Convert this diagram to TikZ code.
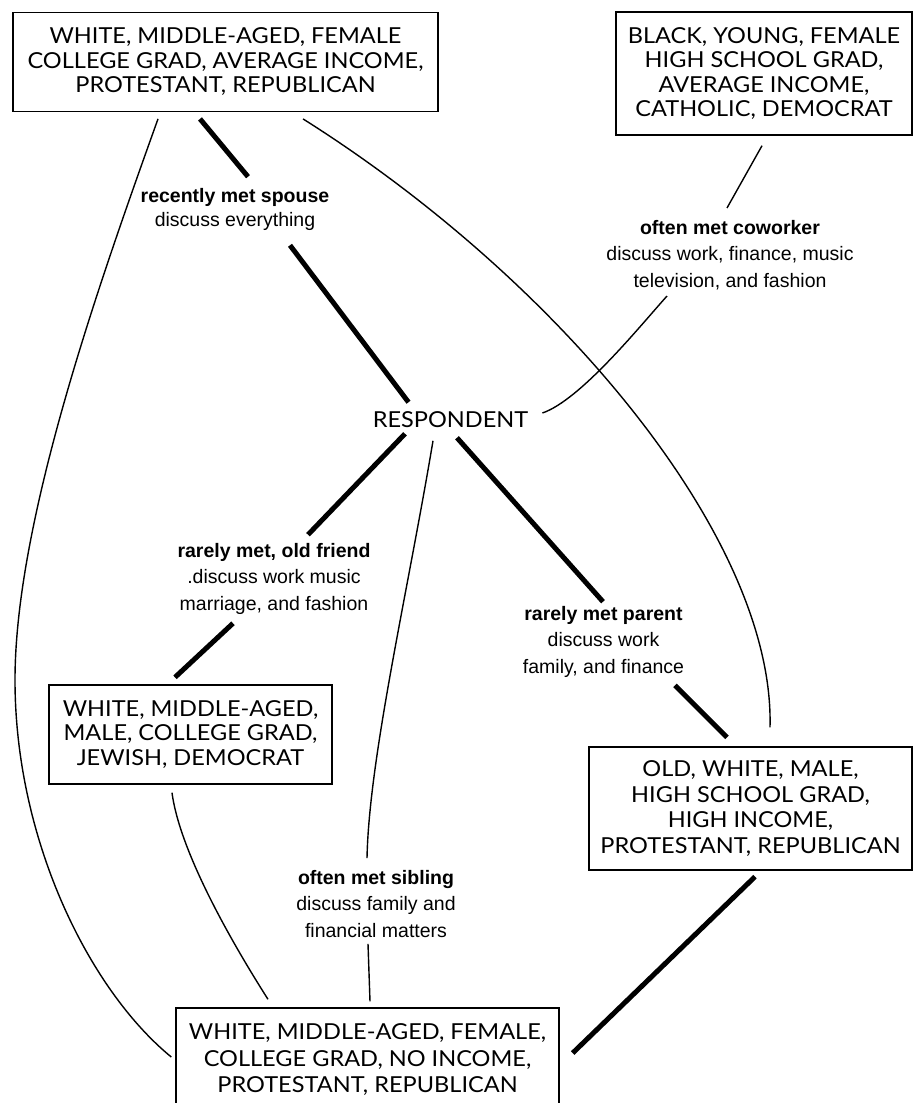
\documentclass[tikz,border=0pt]{standalone}
\usepackage{fontspec}
\setmainfont{Lato}
\newfontfamily\boxfont[FakeStretch=1.07]{Lato}
\newfontfamily\lblfont{Liberation Sans}
\usetikzlibrary{calc}
\begin{document}
\begin{tikzpicture}[x=1pt,y=-1pt,
  box/.style={draw, line width=1.4pt, align=center, inner sep=0pt,
    font=\boxfont\fontsize{22}{24.5}\selectfont},
  lbl/.style={align=center, inner sep=0pt, font=\lblfont\fontsize{19.5}{26.5}\selectfont},
  heavy/.style={line width=5pt},
  thinl/.style={line width=1.4pt}]
\useasboundingbox (0,0) rectangle (913,1103);
\clip (0,0) rectangle (913,1103);
% boxes
\node[box, minimum width=425pt, minimum height=99pt] (A) at (225.5,61.7)
  {WHITE, MIDDLE-AGED, FEMALE\\COLLEGE GRAD, AVERAGE INCOME,\\PROTESTANT, REPUBLICAN};
\node[box, minimum width=296pt, minimum height=123pt] (B) at (764,73.5)
  {BLACK, YOUNG, FEMALE\\HIGH SCHOOL GRAD,\\AVERAGE INCOME,\\CATHOLIC, DEMOCRAT};
\node[box, minimum width=283pt, minimum height=99pt] (C) at (190.5,734.5)
  {WHITE, MIDDLE-AGED,\\MALE, COLLEGE GRAD,\\JEWISH, DEMOCRAT};
\node[box, minimum width=323pt, minimum height=123pt, font=\boxfont\fontsize{22}{25.5}\selectfont] (D) at (750.5,808.5)
  {OLD, WHITE, MALE,\\HIGH SCHOOL GRAD,\\HIGH INCOME,\\PROTESTANT, REPUBLICAN};
\node[box, minimum width=383pt, minimum height=104pt, font=\boxfont\fontsize{22}{26.5}\selectfont] (E) at (367.5,1060)
  {WHITE, MIDDLE-AGED, FEMALE,\\COLLEGE GRAD, NO INCOME,\\PROTESTANT, REPUBLICAN};
\node[inner sep=0pt, font=\boxfont\fontsize{22}{24.5}\selectfont] (R) at (450.5,420) {RESPONDENT};
% labels
\node[lbl, font=\lblfont\fontsize{19.5}{24}\selectfont] (sp) at (235,209)
  {\textbf{recently met spouse}\\discuss everything};
\node[lbl] (cw) at (730,255)
  {\textbf{often met coworker}\\discuss work, finance, music\\television, and fashion};
\node[lbl] (fr) at (274,578.5)
  {\textbf{rarely met, old friend}\\.discuss work music\\marriage, and fashion};
\node[lbl] (pa) at (603.5,641.5)
  {\textbf{rarely met parent}\\discuss work\\family, and finance};
\node[lbl] (sb) at (376,904)
  {\textbf{often met sibling}\\discuss family and\\financial matters};
% spouse
\draw[heavy] ($(A.south)+(-25.5,7)$) -- ($(sp.north)+(13,-11)$);
\draw[heavy] ($(sp.south)+(55,15)$) -- ($(R.north)+(-42,-9.5)$);
% coworker
\draw[thinl] ($(B.south)+(-2,10)$) -- ($(cw.north)+(-3,-12)$);
\draw[thinl] ($(cw.south)+(-63,6)$) .. controls +(-27,30) and +(38,-13) .. ($(R.east)+(14,-7)$);
% friend
\draw[heavy] ($(R.south)+(-45.5,5.5)$) -- ($(fr.north)+(34,-8)$);
\draw[heavy] ($(fr.south)+(-41,9)$) -- ($(C.north)+(-15.5,-7)$);
% parent
\draw[heavy] ($(R.south)+(6.5,9.5)$) -- ($(pa.north)+(-0.5,-4)$);
\draw[heavy] ($(pa.south)+(71.5,8)$) -- ($(D.north)+(-23.5,-9)$);
% sibling
\draw[thinl] ($(R.south)+(-17.5,12.5)$) .. controls +(-25,150) and +(2,-100) .. ($(sb.north)+(-9,-12)$);
\draw[thinl] ($(sb.south)+(-8,6)$) -- ($(E.north)+(2.5,-6)$);
% A to D
\draw[thinl] ($(A.south)+(77.5,7)$) .. controls +(257,162) and +(5,-188) .. ($(D.north)+(19.5,-19)$);
% A to E (left arc)
\draw[thinl] ($(A.south)+(-67.5,7)$) .. controls +(-58,162) and +(0,-160) .. (15,680)
  .. controls +(0,160) and +(-82,-67) .. ($(E.west)+(-4,-3)$);
% C to E
\draw[thinl] ($(C.south)+(-18.5,8)$) .. controls +(8,60) and +(-35,-55) .. ($(E.north)+(-99.5,-8)$);
% D to E
\draw[heavy] ($(D.south)+(4.5,6)$) -- ($(E.east)+(13,-7)$);
\end{tikzpicture}
\end{document}
